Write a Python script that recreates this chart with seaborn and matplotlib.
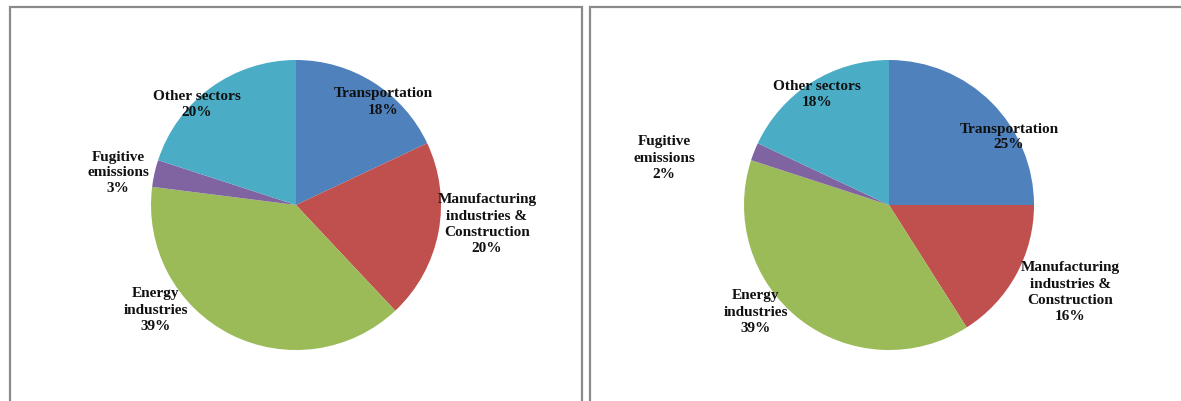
import matplotlib
matplotlib.use("Agg")
import matplotlib.pyplot as plt
import seaborn as sns
from matplotlib.patches import Rectangle

sns.set_theme(style="white")
plt.rcParams['font.family'] = ['Liberation Serif', 'DejaVu Serif']

# ---- data ----
sectors = ["Transportation", "Manufacturing industries & Construction",
           "Energy industries", "Fugitive emissions", "Other sectors"]
left_values = [18, 20, 39, 3, 20]
right_values = [25, 16, 39, 2, 18]
left_labels = ["Transportation\n18%", "Manufacturing\nindustries &\nConstruction\n20%",
               "Energy\nindustries\n39%", "Fugitive\nemissions\n3%", "Other sectors\n20%"]
right_labels = ["Transportation\n25%", "Manufacturing\nindustries &\nConstruction\n16%",
                "Energy\nindustries\n39%", "Fugitive\nemissions\n2%", "Other sectors\n18%"]
colors = ["#4F81BD", "#C0504D", "#9BBB59", "#8064A2", "#4BACC6"]
palette = sns.color_palette(colors)

W, H = 1181, 401
fig = plt.figure(figsize=(W / 100, H / 100), dpi=100)
ax = fig.add_axes([0, 0, 1, 1])

def Y(y):
    return H - y

# frames
ax.add_patch(Rectangle((10, Y(500)), 572, 493, fill=False, edgecolor="#8a8a8a", linewidth=1.6))
ax.add_patch(Rectangle((590, Y(500)), 700, 493, fill=False, edgecolor="#8a8a8a", linewidth=1.6))

# pies
for values, cx in [(left_values, 296), (right_values, 889)]:
    ax.pie(values, colors=palette, startangle=90, counterclock=False,
           center=(cx, Y(205)), radius=145, wedgeprops=dict(linewidth=0),
           frame=True)

ax.set_xlim(0, W)
ax.set_ylim(0, H)
ax.set_aspect("equal")
ax.axis("off")

left_pos = [(383, 102), (487, 224), (156, 310), (118, 173), (197, 105)]
right_pos = [(1009, 137), (1070, 292), (756, 312), (664, 158), (817, 94)]

for labels, pos in [(left_labels, left_pos), (right_labels, right_pos)]:
    for lab, (x, y) in zip(labels, pos):
        ax.text(x, Y(y), lab, ha="center", va="center", multialignment="center",
                fontsize=11, fontweight="bold", color="#111111", linespacing=1.3)

fig.savefig("out.png", dpi=100, facecolor="white")
